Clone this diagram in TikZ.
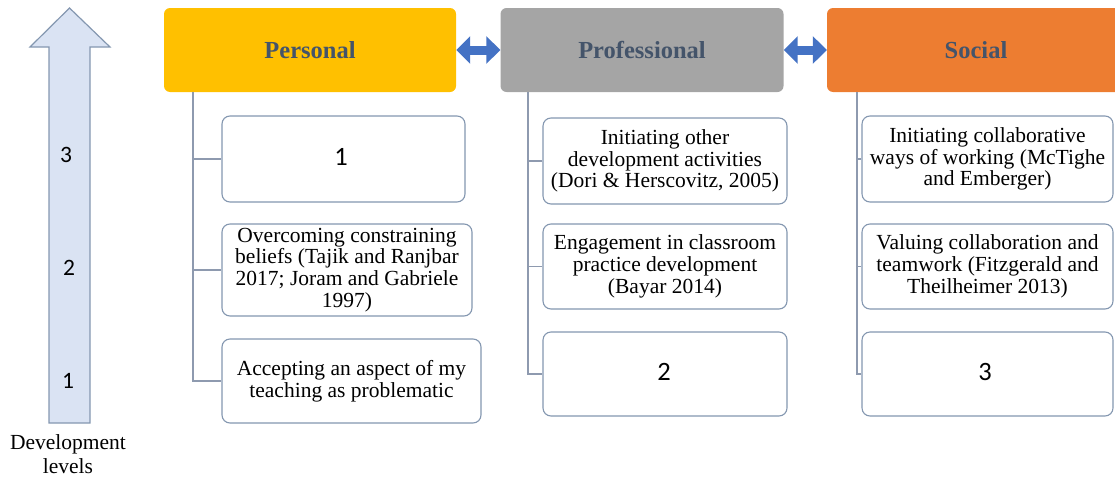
\documentclass[tikz,border=0pt]{standalone}
\usepackage{fontspec}
\setmainfont{Liberation Serif}
\newfontfamily\calfont{Carlito}
\usetikzlibrary{arrows.meta}
\definecolor{persY}{HTML}{FFC000}
\definecolor{profG}{HTML}{A5A5A5}
\definecolor{socO}{HTML}{ED7D31}
\definecolor{headTxt}{HTML}{44546A}
\definecolor{linkBlue}{HTML}{4472C4}
\definecolor{boxLine}{HTML}{8497B0}
\definecolor{treeLine}{HTML}{8E9AAF}
\definecolor{levelFill}{HTML}{DAE3F3}
\definecolor{levelLine}{HTML}{8497B0}
\begin{document}
\begin{tikzpicture}[x=1pt,y=-1pt,
  header/.style={rounded corners=6pt, inner sep=0pt, text=headTxt,
    font=\fontsize{24.5}{26}\selectfont\bfseries},
  item/.style={draw=boxLine, line width=1.1pt, rounded corners=8pt, fill=white,
    align=center, inner sep=0pt, font=\fontsize{21.5}{21.7}\selectfont},
  num/.style={font=\calfont\fontsize{26.5}{26.5}\selectfont},
  lvl/.style={font=\calfont\fontsize{23.5}{23.5}\selectfont},
  tree/.style={draw=treeLine, line width=1.5pt},
  link/.style={draw=linkBlue, line width=9pt,
    {Triangle[width=27pt,length=14pt]}-{Triangle[width=27pt,length=14pt]}},
]
\useasboundingbox (0,0) rectangle (1115,479);
\clip (0,0) rectangle (1115,479);

% development levels arrow
\draw[fill=levelFill, draw=levelLine, line width=1.2pt]
  (49,423) -- (49,47) -- (30,47) -- (69.5,8) -- (110,47) -- (90,47) -- (90,423) -- cycle;
\node[lvl] (l3) at (66,155) {3};
\node[lvl] (l2) at (69,268) {2};
\node[lvl] (l1) at (68,381) {1};
\node[align=center, font=\fontsize{21.5}{24}\selectfont] (dev) at (68,454) {Development\\levels};

% dimension headers
\node[header, fill=persY, minimum width=292pt, minimum height=84pt] (pers) at (310,50) {Personal};
\node[header, fill=profG, minimum width=283pt, minimum height=84pt] (prof) at (642,50) {Professional};
\node[header, fill=socO, minimum width=298pt, minimum height=84pt] (soc) at (976,50) {Social};

\draw[link] (pers.east) -- (prof.west);
\draw[link] (prof.east) -- (soc.west);

% personal column
\node[item, minimum width=243pt, minimum height=86pt] (p1) at (343.5,159) {};
\node[num] (n1) at (341,157) {1};
\node[item, minimum width=250pt, minimum height=92pt] (p2) at (347,270)
  {Overcoming constraining\\beliefs (Tajik and Ranjbar\\2017; Joram and Gabriele\\1997)};
\node[item, minimum width=259pt, minimum height=84pt] (p3) at (351.5,381)
  {Accepting an aspect of my\\teaching as problematic};
\draw[tree] ([xshift=29pt]pers.south west) |- (p1.west);
\draw[tree] ([xshift=29pt]pers.south west) |- (p2.west);
\draw[tree] ([xshift=29pt]pers.south west) |- (p3.west);

% professional column
\node[item, minimum width=244pt, minimum height=86pt] (q1) at (665,161)
  {Initiating other\\development activities\\(Dori \& Herscovitz, 2005)};
\node[item, minimum width=244pt, minimum height=85pt] (q2) at (665,266.5)
  {Engagement in classroom\\practice development\\(Bayar 2014)};
\node[item, minimum width=244pt, minimum height=84pt] (q3) at (665,374) {};
\node[num] (n2) at (664,372) {2};
\draw[tree] ([xshift=27.5pt]prof.south west) |- (q1.west);
\draw[tree] ([xshift=27.5pt]prof.south west) |- (q2.west);
\draw[tree] ([xshift=27.5pt]prof.south west) |- (q3.west);

% social column
\node[item, minimum width=251pt, minimum height=86pt] (r1) at (987.5,159)
  {Initiating collaborative\\ways of working (McTighe\\and Emberger)};
\node[item, minimum width=251pt, minimum height=85pt] (r2) at (987.5,266.5)
  {Valuing collaboration and\\teamwork (Fitzgerald and\\Theilheimer 2013)};
\node[item, minimum width=251pt, minimum height=84pt] (r3) at (987.5,374) {};
\node[num] (n3) at (985,372) {3};
\draw[tree] ([xshift=30pt]soc.south west) |- (r1.west);
\draw[tree] ([xshift=30pt]soc.south west) |- (r2.west);
\draw[tree] ([xshift=30pt]soc.south west) |- (r3.west);
\end{tikzpicture}
\end{document}
